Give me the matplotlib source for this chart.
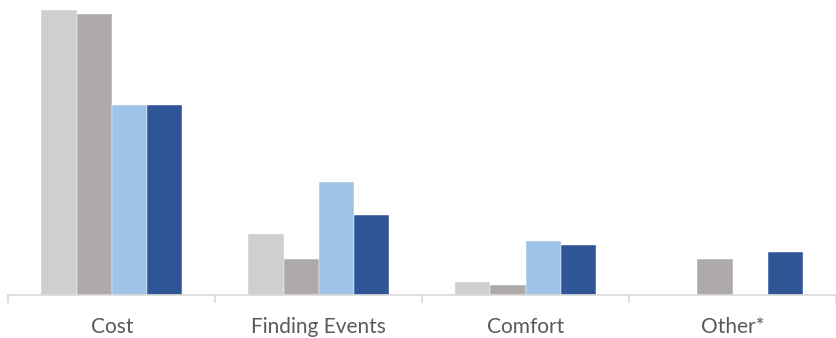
import matplotlib
matplotlib.use("Agg")
import matplotlib.pyplot as plt
import matplotlib.transforms as mtransforms
import numpy as np

categories = ["Cost", "Finding Events", "Comfort", "Other*"]
series_a = [57.0, 12.3, 2.7, 0.0]
series_b = [56.3, 7.2, 2.0, 7.2]
series_c = [38.0, 22.6, 10.8, 0.0]
series_d = [38.0, 16.0, 10.0, 8.6]
series = [series_a, series_b, series_c, series_d]
colors = ["#D0CECE", "#AEAAAA", "#9DC3E6", "#2F5597"]

W, H, DPI = 836, 338, 100
LEFT_PX, BASE_PX, CAT_PX = 8.3, 295, 208.5
fig = plt.figure(figsize=(W / DPI, H / DPI), dpi=DPI)
ax = fig.add_axes([LEFT_PX / W, 1 - BASE_PX / H, (W - LEFT_PX) / W, BASE_PX / H])

x = np.arange(len(categories))
bw = 0.17
for i, (vals, c) in enumerate(zip(series, colors)):
    ax.bar(x + (i - 1.5) * bw, vals, width=bw, color=c,
           edgecolor="white", linewidth=0.3, zorder=2)

ax.set_xlim(-0.5, -0.5 + (W - LEFT_PX) / CAT_PX)
ax.set_ylim(0, 59)

for s in ["top", "right", "left"]:
    ax.spines[s].set_visible(False)
ax.spines["bottom"].set_color("#D9D9D9")
ax.spines["bottom"].set_linewidth(1.2)
ax.set_yticks([])

# category labels: x in data units, baseline placed in figure coordinates
ax.set_xticks(x)
ax.set_xticklabels([])
ax.tick_params(axis="x", which="major", length=0)
trans = mtransforms.blended_transform_factory(ax.transData, fig.transFigure)
for xi, name in zip(x, categories):
    ax.text(xi, (H - 333) / H, name, transform=trans, ha="center", va="baseline",
            fontsize=15, color="#595959", family=["Lato", "DejaVu Sans"], clip_on=False)

ax.set_xticks(np.arange(-0.5, len(categories), 1.0), minor=True)
ax.tick_params(axis="x", which="minor", length=6, width=1.2, color="#D9D9D9")

fig.savefig("out.png", dpi=DPI)
